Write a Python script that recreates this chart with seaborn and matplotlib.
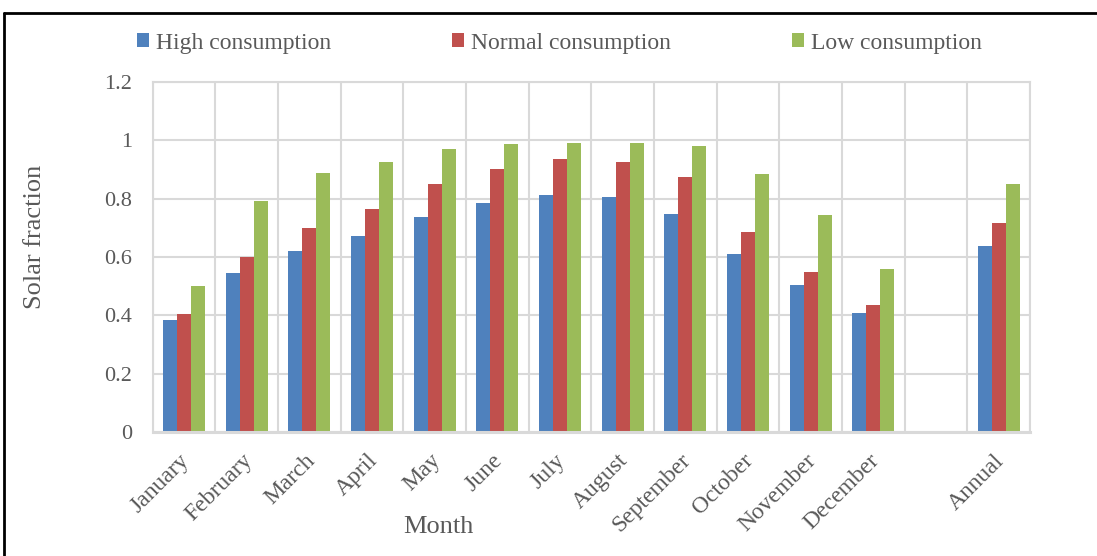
import matplotlib
matplotlib.use("Agg")
import matplotlib.pyplot as plt
from matplotlib.patches import Patch
from matplotlib.lines import Line2D
from matplotlib.transforms import ScaledTranslation
import seaborn as sns
import pandas as pd

months = ["January", "February", "March", "April", "May", "June", "July",
          "August", "September", "October", "November", "December", "Annual"]
high = [0.384, 0.544, 0.622, 0.672, 0.737, 0.785, 0.813, 0.805, 0.749, 0.611, 0.503, 0.407, 0.636]
normal = [0.404, 0.600, 0.700, 0.763, 0.849, 0.902, 0.936, 0.926, 0.874, 0.685, 0.550, 0.435, 0.718]
low = [0.502, 0.793, 0.889, 0.927, 0.971, 0.986, 0.992, 0.991, 0.982, 0.886, 0.744, 0.559, 0.852]
series_names = ["High consumption", "Normal consumption", "Low consumption"]
colors = ["#4F81BD", "#C0504D", "#9BBB59"]
yticks = [0, 0.2, 0.4, 0.6, 0.8, 1.0, 1.2]
ytick_labels = ["0", "0.2", "0.4", "0.6", "0.8", "1", "1.2"]

sns.set_style("white")
plt.rcParams["font.family"] = ["Liberation Serif", "DejaVu Serif"]
text_color = "#595959"
grid_color = "#D9D9D9"

W, H = 1097, 556

df = pd.DataFrame({
    "Month": months * 3,
    "Value": high + normal + low,
    "Series": sum([[s] * len(months) for s in series_names], []),
})

# a blank slot separates the monthly bars from the annual one
order = months[:-1] + [" "] + ["Annual"]

fig = plt.figure(figsize=(W / 100, H / 100), dpi=100)
ax = fig.add_axes([152.7 / W, 1 - 432 / H, (1030 - 152.7) / W, (432 - 82) / H])

sns.barplot(data=df, x="Month", y="Value", hue="Series", order=order,
            hue_order=series_names, palette=colors, width=0.67, gap=0,
            linewidth=0, saturation=1, ax=ax, legend=False)

ax.set_ylim(0, 1.2)
ax.set_xlim(-0.5, len(order) - 0.5)
ax.set_yticks(yticks)
ax.set_yticklabels(ytick_labels)

# horizontal grid at ticks, vertical grid between categories
for y in yticks:
    ax.axhline(y, color=grid_color, lw=1.5, zorder=0)
for i in range(len(order) + 1):
    ax.axvline(i - 0.5, color=grid_color, lw=1.5, zorder=0)

for s in ax.spines.values():
    s.set_color(grid_color)
    s.set_linewidth(1.5)
ax.spines["bottom"].set_linewidth(2.2)

ax.tick_params(axis="both", length=0, labelsize=16, colors=text_color)
ax.tick_params(axis="y", pad=15)
ax.set_xticks(range(len(order)))
ax.set_xticklabels(order, rotation=45, ha="right", rotation_mode="anchor",
                   fontsize=17, color=text_color)
ax.tick_params(axis="x", pad=13)
shift = ScaledTranslation(-5 / 100, 0, fig.dpi_scale_trans)
for lbl in ax.get_xticklabels():
    lbl.set_transform(lbl.get_transform() + shift)

ax.set_xlabel("")
ax.set_ylabel("")
fig.text(438 / W, 1 - 527 / H, "Month", fontsize=19, color=text_color,
         ha="center", va="center")
fig.text(35 / W, 1 - 237 / H, "Solar fraction", fontsize=19, color=text_color,
         ha="center", va="center", rotation=90)

# one legend entry per series, spaced across the top
legend_x = [137, 452, 792]
for name, c, x in zip(series_names, colors, legend_x):
    leg = fig.legend([Patch(facecolor=c, edgecolor="none")], [name],
                     loc="center left", bbox_to_anchor=(x / W, 1 - 43 / H),
                     frameon=False, fontsize=17, handlelength=0.5,
                     handleheight=0.5, handletextpad=0.3,
                     borderaxespad=0, borderpad=0)
    for t in leg.get_texts():
        t.set_color(text_color)

# outer frame lines along the top and left edges
fig.add_artist(Line2D([4 / W, 1.0], [1 - 12.5 / H, 1 - 12.5 / H],
                      transform=fig.transFigure, color="black", lw=2))
fig.add_artist(Line2D([4 / W, 4 / W], [0, 1 - 12.5 / H],
                      transform=fig.transFigure, color="black", lw=2))

fig.savefig("out.png", dpi=100, facecolor="white")
